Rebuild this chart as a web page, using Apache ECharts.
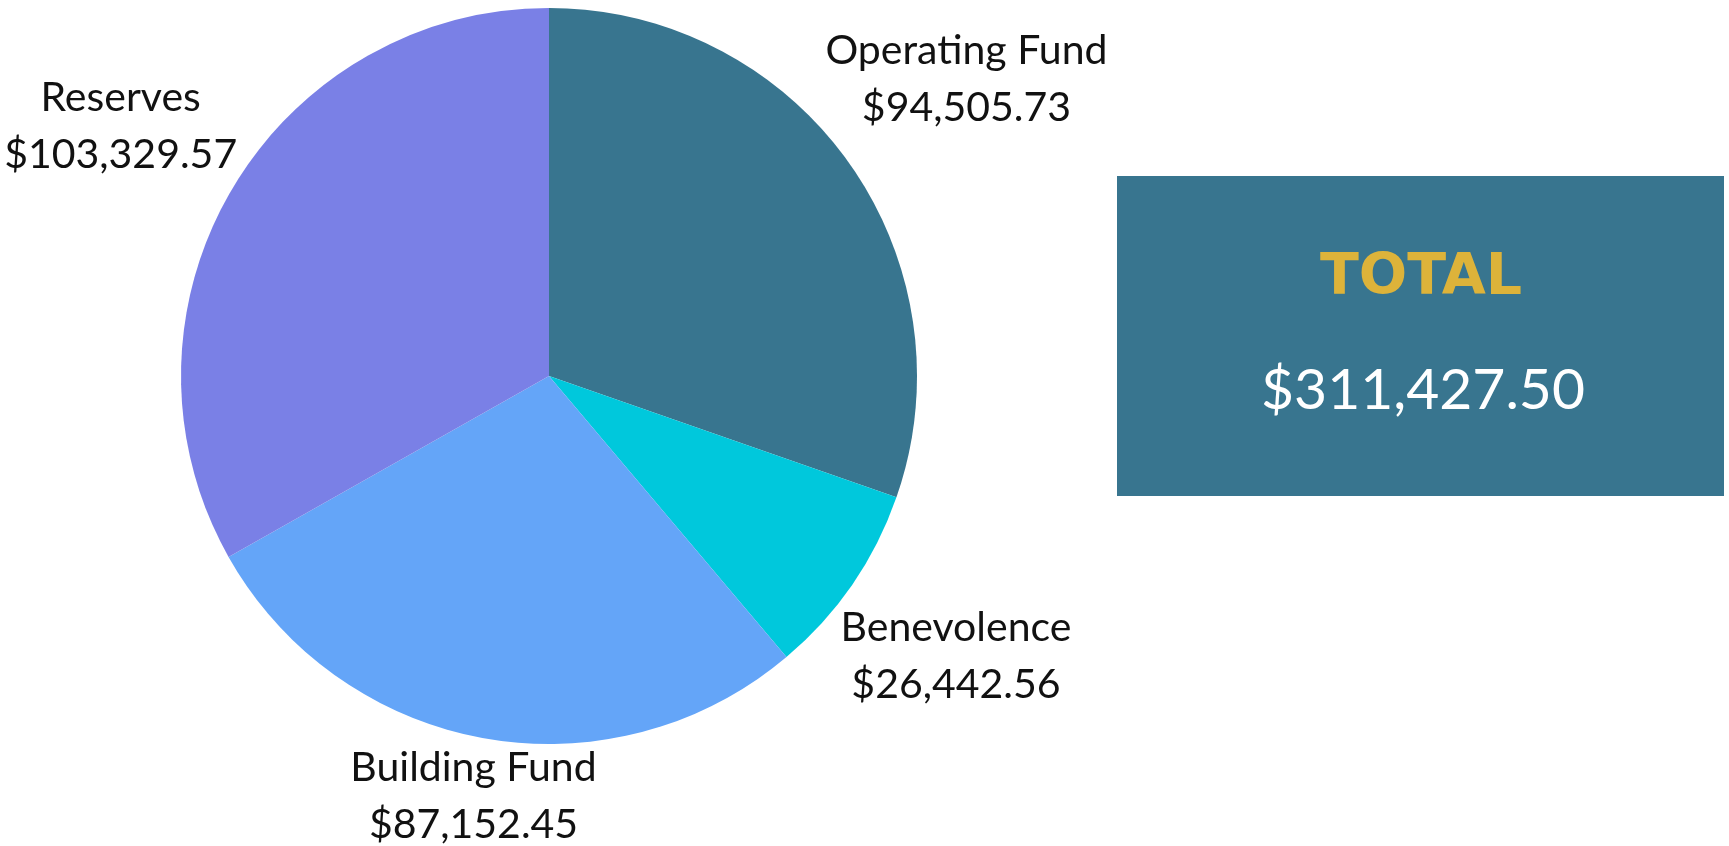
<!DOCTYPE html>
<html>
<head>
<meta charset="utf-8">
<script src="https://cdn.jsdelivr.net/npm/echarts@6/dist/echarts.min.js"></script>
<style>
  html, body { margin: 0; padding: 0; background: #fff; }
  #main { width: 1729px; height: 846px; }
</style>
</head>
<body>
<div id="main"></div>
<script>
  // 数据
  var categories = ['Operating Fund', 'Benevolence', 'Building Fund', 'Reserves'];
  var amounts = [94505.73, 26442.56, 87152.45, 103329.57];
  var colors = ['#38758f', '#00c8dc', '#64a5f8', '#7a80e6'];
  var totalLabel = 'TOTAL';
  var totalText = '$311,427.50';

  var cx = 549, cy = 376, r = 368;
  var fontFamily = 'Lato, "Open Sans", sans-serif';

  function money(v) {
    return '$' + v.toLocaleString('en-US', { minimumFractionDigits: 2, maximumFractionDigits: 2 });
  }

  // 每个扇区的中间角度（从12点钟顺时针）
  var sum = amounts.reduce(function (a, b) { return a + b; }, 0);
  var midAngles = [];
  var acc = 0;
  amounts.forEach(function (v) {
    midAngles.push((acc + v / 2) / sum * Math.PI * 2);
    acc += v;
  });

  var myChart = echarts.init(document.getElementById('main'));

  var option = {
    animation: false,
    color: colors,
    series: [
      {
        type: 'pie',
        center: [cx, cy],
        radius: r,
        startAngle: 90,
        clockwise: true,
        data: categories.map(function (name, i) {
          return { name: name, value: amounts[i] };
        }),
        label: {
          show: true,
          position: 'outside',
          overflow: 'none',
          color: '#111',
          fontFamily: fontFamily,
          fontSize: 41,
          lineHeight: 57,
          formatter: function (p) {
            return p.name + '\n' + money(p.value);
          }
        },
        labelLine: { show: false },
        // 标签放在扇区外侧，贴近圆周
        labelLayout: function (p) {
          var w = p.labelRect.width, h = p.labelRect.height;
          var inset = 8, gap = 3;
          var a = midAngles[p.dataIndex];
          var dx = Math.sin(a), dy = -Math.cos(a);
          var R = r;
          for (; R < r + 400; R += 1) {
            var bx = cx + R * dx, by = cy + R * dy;
            var nx = Math.max(bx - w / 2, Math.min(cx, bx + w / 2));
            var ny = Math.max(by - h / 2 + inset, Math.min(cy, by + h / 2 - inset));
            if (Math.hypot(nx - cx, ny - cy) >= r + gap) break;
          }
          return {
            x: cx + R * dx,
            y: cy + R * dy,
            align: 'center',
            verticalAlign: 'middle'
          };
        },
        emphasis: { disabled: true }
      }
    ],
    graphic: [
      {
        type: 'group',
        left: 1117,
        top: 176,
        children: [
          {
            type: 'rect',
            shape: { x: 0, y: 0, width: 607, height: 320 },
            style: { fill: '#38758f' }
          },
          {
            type: 'text',
            x: 304,
            y: 103,
            style: {
              text: totalLabel,
              fill: '#ddb33a',
              font: 'bold 57px "DejaVu Sans", Lato, sans-serif',
              align: 'center',
              verticalAlign: 'middle'
            }
          },
          {
            type: 'text',
            x: 306,
            y: 215,
            style: {
              text: totalText,
              fill: '#ffffff',
              font: '57px ' + fontFamily,
              align: 'center',
              verticalAlign: 'middle'
            }
          }
        ]
      }
    ]
  };

  myChart.setOption(option);
</script>
</body>
</html>
